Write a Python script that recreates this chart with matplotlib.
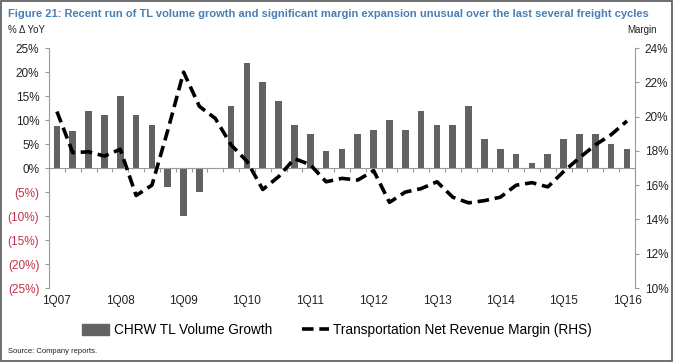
import numpy as np
import matplotlib.pyplot as plt
from matplotlib.patches import Rectangle
from matplotlib.lines import Line2D
from matplotlib.ticker import FuncFormatter

plt.rcParams['font.family'] = ['Liberation Sans', 'DejaVu Sans']

quarters = [f"{q}Q{y:02d}" for y in range(7, 17) for q in range(1, 5)][:37]
volume = [8.7, 7.8, 12, 11, 15, 11, 9, -4, -10, -5, 0, 13, 22, 18, 14, 9,
          7, 3.5, 4, 7, 8, 10, 8, 12, 9, 9, 13, 6, 4, 3, 1, 3,
          6, 7, 7, 5, 4]
margin = [20.3, 17.9, 17.95, 17.7, 18.1, 15.4, 16.0, 19.2, 22.6, 20.6, 19.9, 18.35,
          17.4, 15.75, 16.5, 17.55, 17.2, 16.2, 16.4, 16.3, 16.85, 15.0, 15.6, 15.8,
          16.2, 15.3, 14.97, 15.1, 15.3, 16.0, 16.15, 15.9, 16.8, 17.6, 18.35, 18.95, 19.75]
label_every = 4

grey = '#9a9a9a'
fig = plt.figure(figsize=(6.74, 3.62), dpi=100)
ax = fig.add_axes([0.0727, 0.2044, 0.942 - 0.0727, 0.867 - 0.2044])
x = np.arange(len(quarters))
ax.bar(x, volume, width=0.42, color='#626262', zorder=2)
ax.set_xlim(-0.5, len(quarters) - 0.5)
ax.set_ylim(-25, 25)
ax.set_yticks(np.arange(-25, 26, 5))

def pct(v, pos):
    return f"({abs(v):.0f}%)" if v < 0 else f"{v:.0f}%"
ax.yaxis.set_major_formatter(FuncFormatter(pct))
for t, v in zip(ax.get_yticklabels(), ax.get_yticks()):
    t.set_color('#c0304a' if v < 0 else '#222222')
ax.tick_params(axis='y', labelsize=8.5, length=3, color=grey, pad=4)

# zero line with tick marks at category boundaries
ax.spines['bottom'].set_position(('data', 0))
ax.spines['bottom'].set_color(grey)
ax.set_xticks(np.arange(-0.5, len(quarters), 1))
ax.tick_params(axis='x', length=3, color=grey, labelbottom=False, direction='out')
for i in range(0, len(quarters), label_every):
    ax.text(i, -0.028, quarters[i], transform=ax.get_xaxis_transform(),
            ha='center', va='top', fontsize=8.5, color='#222222')

ax.spines['top'].set_visible(False)
ax.spines['right'].set_visible(False)
ax.spines['left'].set_color(grey)

ax2 = ax.twinx()
ax2.plot(x, margin, color='black', lw=2.6, ls=(0, (3.2, 1.6)), zorder=3)
ax2.set_ylim(10, 24)
ax2.set_yticks(np.arange(10, 25, 2))
ax2.yaxis.set_major_formatter(FuncFormatter(lambda v, p: f"{v:.0f}%"))
ax2.tick_params(axis='y', labelsize=8.5, length=3, color=grey, labelcolor='#222222', pad=4)
for s in ['top', 'left', 'bottom']:
    ax2.spines[s].set_visible(False)
ax2.spines['right'].set_color(grey)

fig.text(0.012, 0.975, "Figure 21: Recent run of TL volume growth and significant margin expansion unusual over the last several freight cycles",
         fontsize=8, fontweight='bold', color='#4a7fb5', va='top', ha='left',
         family=['Liberation Sans Narrow', 'Liberation Sans', 'DejaVu Sans'])
fig.text(0.012, 0.93, "% \u0394 YoY", fontsize=7, color='#222222', va='top', ha='left')
fig.text(0.975, 0.93, "Margin", fontsize=7, color='#222222', va='top', ha='right')
fig.text(0.012, 0.018, "Source: Company reports.", fontsize=5.5, color='#222222', va='bottom', ha='left')

handles = [Rectangle((0, 0), 1, 1, color='#626262'),
           Line2D([], [], color='black', lw=2.6, ls=(0, (3.2, 1.6)))]
fig.legend(handles, ['CHRW TL Volume Growth', 'Transportation Net Revenue Margin (RHS)'],
           loc='center', bbox_to_anchor=(0.5, 0.088), ncol=2, frameon=False,
           fontsize=9.8, handlelength=2.0, handleheight=0.8, columnspacing=2.2, handletextpad=0.3)

fig.patches.append(Rectangle((0.002, 0.003), 0.995, 0.994, transform=fig.transFigure,
                             fill=False, edgecolor='#555555', lw=1.2))
fig.savefig('out.png', dpi=100)
